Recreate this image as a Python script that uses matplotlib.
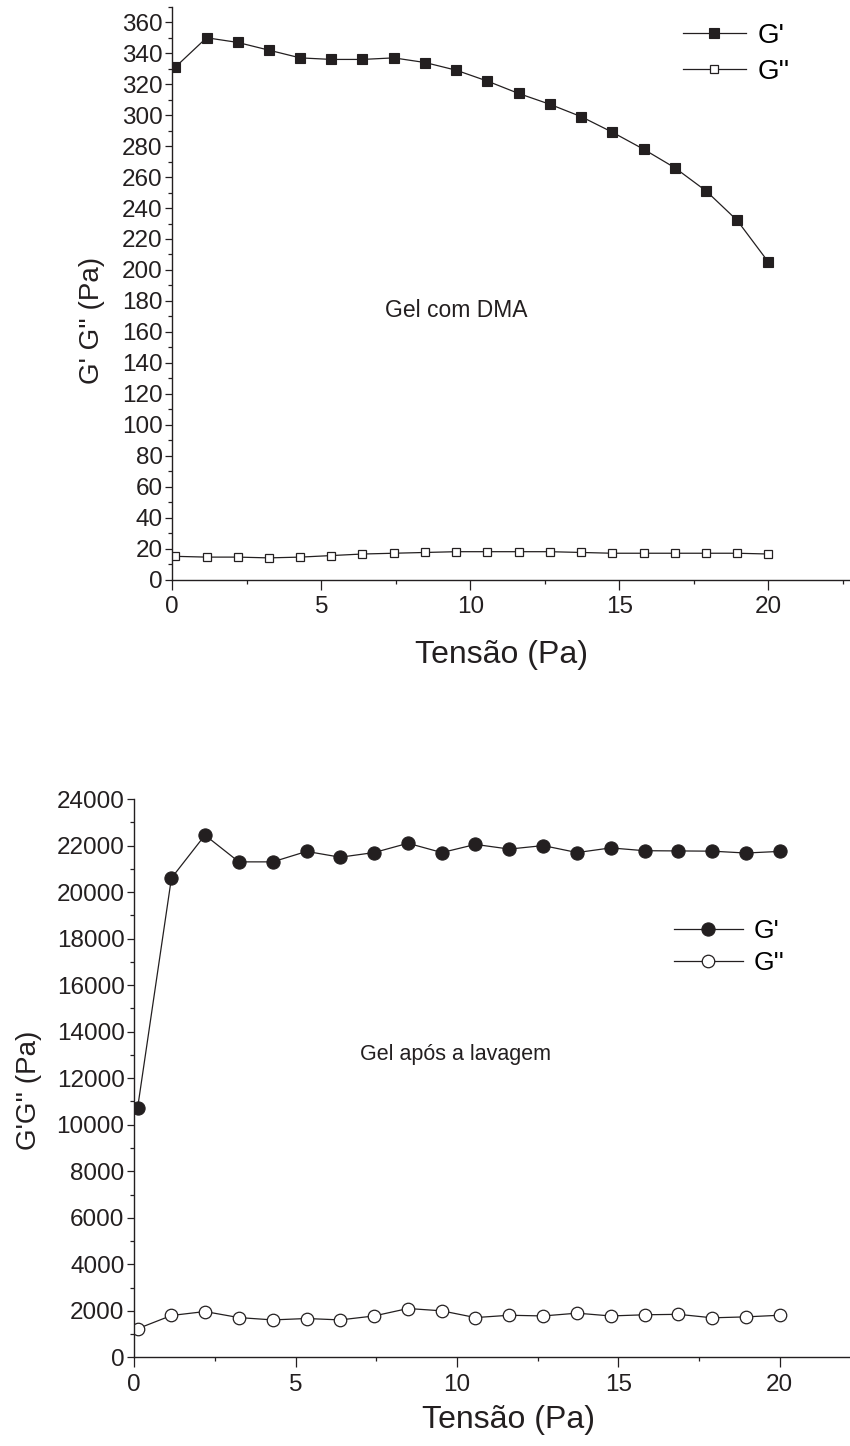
import matplotlib
matplotlib.use('Agg')
import matplotlib.pyplot as plt
from matplotlib.ticker import MultipleLocator

plt.rcParams['font.family'] = ['Liberation Sans', 'DejaVu Sans']

INK = '#231f20'

# tensão (Pa) - same stress sweep for both gels
tensao = [0.1, 1.15, 2.19, 3.24, 4.29, 5.34, 6.38, 7.43, 8.48, 9.53,
          10.57, 11.62, 12.67, 13.72, 14.76, 15.81, 16.86, 17.91, 18.95, 20.0]

# Gel com DMA
g1_storage = [331, 350, 347, 342, 337, 336, 336, 337, 334, 329,
              322, 314, 307, 299, 289, 278, 266, 251, 232, 205]
g1_loss = [15.0, 14.5, 14.5, 14.0, 14.5, 15.5, 16.5, 17.0, 17.5, 18.0,
           18.0, 18.0, 18.0, 17.5, 17.0, 17.0, 17.0, 17.0, 17.0, 16.5]

# Gel após a lavagem
g2_storage = [10700, 20600, 22450, 21300, 21300, 21750, 21500, 21700, 22100, 21700,
              22050, 21850, 22000, 21700, 21900, 21780, 21770, 21760, 21680, 21750]
g2_loss = [1230, 1800, 1970, 1710, 1610, 1670, 1610, 1780, 2100, 2000,
           1710, 1810, 1780, 1900, 1780, 1830, 1850, 1700, 1740, 1810]

legend_labels = ["G'", "G''"]


def style_axes(ax, ymajor, yminor):
    for side in ('top', 'right'):
        ax.spines[side].set_visible(False)
    for side in ('left', 'bottom'):
        ax.spines[side].set_color(INK)
        ax.spines[side].set_linewidth(1.0)
    ax.xaxis.set_major_locator(MultipleLocator(5))
    ax.xaxis.set_minor_locator(MultipleLocator(2.5))
    ax.yaxis.set_major_locator(MultipleLocator(ymajor))
    ax.yaxis.set_minor_locator(MultipleLocator(yminor))
    ax.tick_params(axis='x', which='major', direction='out', length=7, width=0.9,
                   color=INK, labelsize=17.5, labelcolor=INK, pad=5)
    ax.tick_params(axis='x', which='minor', direction='out', length=3, width=0.9, color=INK)
    ax.tick_params(axis='y', which='major', direction='out', length=5, width=0.9,
                   color=INK, labelsize=17.5, labelcolor=INK, pad=2)
    ax.tick_params(axis='y', which='minor', direction='out', length=3, width=0.9, color=INK)


fig = plt.figure(figsize=(8.5, 14.46), dpi=100)

# ---- top: Gel com DMA ----
ax1 = fig.add_axes([0.2027, 0.5992, 0.7961, 0.3961])
l1, = ax1.plot(tensao, g1_storage, '-s', color=INK, lw=0.9, ms=7,
               mfc=INK, mec=INK, mew=0.8)
l2, = ax1.plot(tensao, g1_loss, '-s', color=INK, lw=0.9, ms=6,
               mfc='white', mec=INK, mew=0.9)
ax1.set_xlim(0, 22.7)
ax1.set_ylim(0, 370)
style_axes(ax1, 20, 10)
ax1.set_xlabel('Tensão (Pa)', fontsize=23, color=INK)
ax1.set_ylabel("G' G'' (Pa)", fontsize=20, color=INK)
ax1.xaxis.set_label_coords(0.486, -0.106)
ax1.yaxis.set_label_coords(-0.100, 0.453)
ax1.text(0.315, 0.47, 'Gel com DMA', transform=ax1.transAxes,
         fontsize=16.5, color=INK, va='center', ha='left')
ax1.legend([l1, l2], legend_labels, loc='upper left', bbox_to_anchor=(0.754, 0.972),
           frameon=False, fontsize=20, handlelength=2.3, handletextpad=0.4,
           borderpad=0, borderaxespad=0, labelspacing=0.35)

# ---- bottom: Gel após a lavagem ----
ax2 = fig.add_axes([0.158, 0.0613, 0.841, 0.3861])
l3, = ax2.plot(tensao, g2_storage, '-o', color=INK, lw=0.9, ms=9.5,
               mfc=INK, mec=INK, mew=0.8)
l4, = ax2.plot(tensao, g2_loss, '-o', color=INK, lw=0.9, ms=9,
               mfc='white', mec=INK, mew=0.9)
ax2.set_xlim(0, 22.15)
ax2.set_ylim(0, 24000)
style_axes(ax2, 2000, 1000)
ax2.set_xlabel('Tensão (Pa)', fontsize=23, color=INK)
ax2.set_ylabel("G'G'' (Pa)", fontsize=20, color=INK)
ax2.xaxis.set_label_coords(0.523, -0.085)
ax2.yaxis.set_label_coords(-0.129, 0.479)
ax2.text(0.316, 0.543, 'Gel após a lavagem', transform=ax2.transAxes,
         fontsize=15.5, color=INK, va='center', ha='left')
ax2.legend([l3, l4], legend_labels, loc='upper left', bbox_to_anchor=(0.755, 0.785),
           frameon=False, fontsize=19, handlelength=2.6, handletextpad=0.4,
           borderpad=0, borderaxespad=0, labelspacing=0.3)

plt.savefig('out.png', dpi=100)
plt.close()
